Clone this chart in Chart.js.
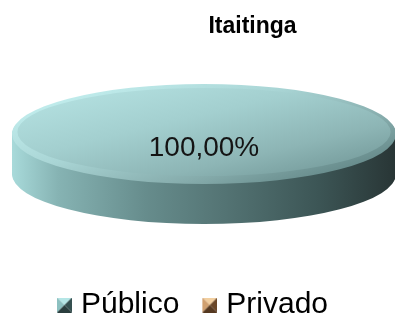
<!DOCTYPE html>
<html>
<head>
<meta charset="utf-8">
<script src="https://cdn.jsdelivr.net/npm/chart.js@4.4.1/dist/chart.umd.min.js"></script>
<style>
  html, body { margin: 0; padding: 0; background: #fff; }
  #wrap { width: 395px; height: 319px; overflow: hidden; }
</style>
</head>
<body>
<div id="wrap"><canvas id="chart-itaitinga" width="395" height="319"></canvas></div>
<script>
// -- DATA ----------------------------------------------
const chartTitle = "Itaitinga";
const categories = ["Público", "Privado"];
const shares = [100, 0];

// -- STYLE ---------------------------------------------
const FONT = "'Liberation Sans', Arial, sans-serif";
const disc = { cx: 204, cy: 134, rx: 192, ry: 50, depth: 40, labelDy: 14 };

// pyramid-shaded square, drawn at the right end of a wider transparent canvas
function legendMarker(top, left, right, bottom) {
  const size = 15;
  const c = document.createElement("canvas");
  c.width = 44;
  c.height = size;
  const g = c.getContext("2d");
  const x0 = c.width - size;
  const mx = x0 + size / 2;
  const my = size / 2;
  const tri = (color, ax, ay, bx, by) => {
    g.fillStyle = color;
    g.beginPath();
    g.moveTo(ax, ay);
    g.lineTo(bx, by);
    g.lineTo(mx, my);
    g.closePath();
    g.fill();
  };
  tri(top, x0, 0, x0 + size, 0);
  tri(left, x0, 0, x0, size);
  tri(right, x0 + size, 0, x0 + size, size);
  tri(bottom, x0, size, x0 + size, size);
  return c;
}

const markers = [
  legendMarker("#b5e6e6", "#8cc0c0", "#355050", "#2a3e3e"),
  legendMarker("#f2cfa0", "#d0a070", "#6a4628", "#553820")
];

function percentText(i) {
  const total = shares.reduce((a, b) => a + b, 0);
  return (shares[i] / total * 100).toFixed(2).replace(".", ",") + "%";
}

// -- PLUGINS -------------------------------------------
let discSaved = false;

const disc3d = {
  id: "disc3d",
  afterLayout(chart) {
    // title sits right of centre in the original
    chart.titleBlock.left += 143;
  },
  beforeDatasetsDraw(chart) {
    const arc = chart.getDatasetMeta(0).data.find((a) => a.circumference > 0);
    if (!arc) return;
    const { ctx } = chart;
    const r = arc.outerRadius;
    const toDisc = (dy, kx = 1, ky = 1) => {
      ctx.translate(disc.cx, disc.cy + dy);
      ctx.scale(disc.rx / r * kx, disc.ry / r * ky);
      ctx.translate(-arc.x, -arc.y);
    };
    const base = arc.options;
    const drawWith = (fill, dy, kx, ky) => {
      ctx.save();
      toDisc(dy, kx, ky);
      arc.options = Object.assign({}, base, { backgroundColor: fill, borderWidth: 0 });
      arc.draw(ctx);
      ctx.restore();
    };

    const side = ctx.createLinearGradient(arc.x - r, 0, arc.x + r, 0);
    side.addColorStop(0, "#a8dada");
    side.addColorStop(0.12, "#86b3b3");
    side.addColorStop(0.35, "#668c8c");
    side.addColorStop(0.55, "#547474");
    side.addColorStop(0.8, "#3c5555");
    side.addColorStop(1, "#283535");
    for (let d = disc.depth; d > 0; d--) {
      drawWith(side, d);
    }

    // soft bevel round the top face
    const rim = ctx.createLinearGradient(arc.x - r, arc.y - r, arc.x + r, arc.y + r * 0.6);
    rim.addColorStop(0, "#cbf7f7");
    rim.addColorStop(0.45, "#a9d5d5");
    rim.addColorStop(0.75, "#86acac");
    rim.addColorStop(1, "#5f8383");
    drawWith(rim, 0);

    const top = ctx.createLinearGradient(arc.x - r, arc.y - r, arc.x + r, arc.y + r);
    top.addColorStop(0, "#b8e5e5");
    top.addColorStop(0.4, "#a3cfcf");
    top.addColorStop(0.7, "#8db5b5");
    top.addColorStop(1, "#6b9090");
    arc.options = Object.assign({}, base, { backgroundColor: top, borderWidth: 0 });
    ctx.save();
    toDisc(-2, 0.972, 0.88);
    discSaved = true;
  },
  afterDatasetsDraw(chart) {
    if (!discSaved) return;
    const { ctx } = chart;
    ctx.restore();
    discSaved = false;

    const meta = chart.getDatasetMeta(0);
    const arc = meta.data.find((a) => a.circumference > 0);
    ctx.save();
    ctx.fillStyle = "#141414";
    ctx.font = "28px " + FONT;
    ctx.textAlign = "center";
    ctx.textBaseline = "middle";
    ctx.fillText(percentText(meta.data.indexOf(arc)), disc.cx, disc.cy + disc.labelDy);
    ctx.restore();
  }
};

// -- RENDER --------------------------------------------
new Chart(document.getElementById("chart-itaitinga"), {
  type: "pie",
  data: {
    labels: categories,
    datasets: [
      {
        data: shares,
        backgroundColor: ["#9fcccc", "#c89a6a"],
        borderWidth: 0,
        clip: false
      }
    ]
  },
  options: {
    responsive: false,
    animation: false,
    events: [],
    layout: { padding: { top: 0, left: 0, right: 33, bottom: -11 } },
    plugins: {
      title: {
        display: true,
        text: chartTitle,
        color: "#000",
        font: { family: FONT, size: 23, weight: "bold" },
        padding: { top: 13, bottom: 4 }
      },
      legend: {
        position: "bottom",
        labels: {
          usePointStyle: true,
          pointStyleWidth: 32,
          padding: 0,
          color: "#000",
          font: { family: FONT, size: 30 },
          generateLabels(chart) {
            const items = Chart.overrides.pie.plugins.legend.labels.generateLabels(chart);
            items.forEach((item, i) => {
              item.pointStyle = markers[i];
            });
            return items;
          }
        }
      },
      tooltip: { enabled: false }
    }
  },
  plugins: [disc3d]
});
</script>
</body>
</html>
